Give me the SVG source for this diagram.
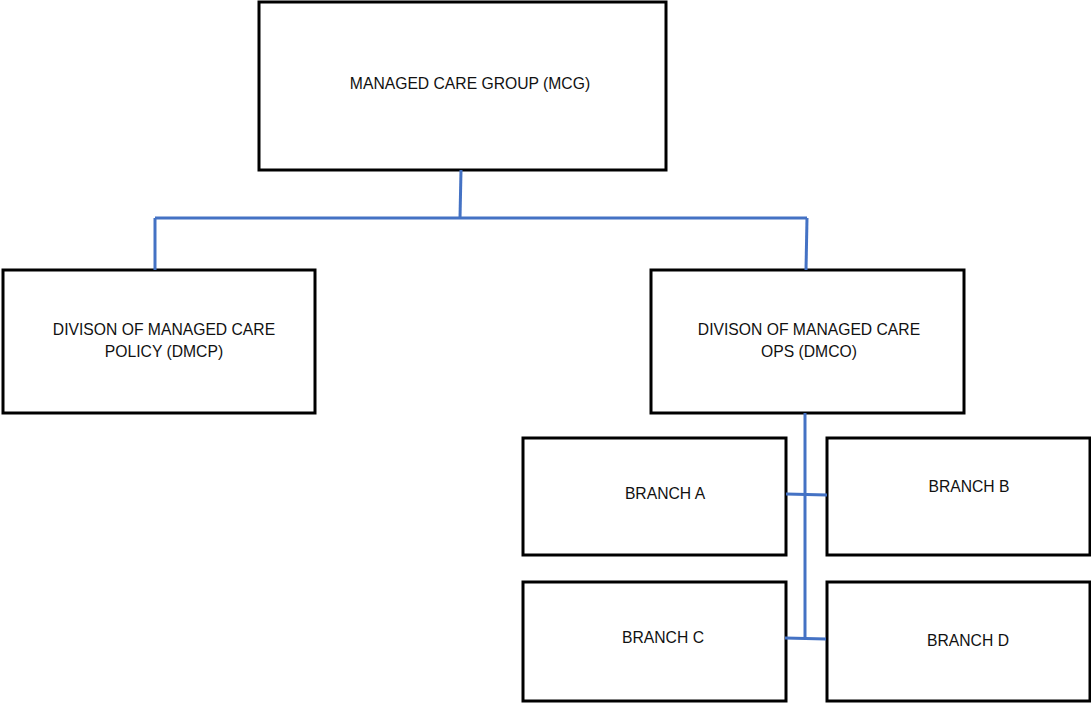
<svg xmlns="http://www.w3.org/2000/svg" width="1091" height="703" viewBox="0 0 1091 703">
<style>
.box{fill:#fff;stroke:#000;stroke-width:3}
.t{font-family:"Liberation Sans",Arial,sans-serif;font-size:15.7px;fill:#111;text-anchor:middle}
.c{stroke:#4472C4;stroke-width:3;fill:none}
</style>
<rect width="1091" height="703" fill="#fff"/>
<g id="mcg"><rect class="box" x="259" y="2" width="407" height="168"/><text class="t" x="470" y="89">MANAGED CARE GROUP (MCG)</text></g>
<g id="dmcp"><rect class="box" x="3" y="270" width="312" height="143"/><text class="t" x="164" y="335">DIVISON OF MANAGED CARE</text><text class="t" x="164" y="357">POLICY (DMCP)</text></g>
<g id="dmco"><rect class="box" x="651" y="270" width="313" height="143"/><text class="t" x="809" y="335">DIVISON OF MANAGED CARE</text><text class="t" x="809" y="357">OPS (DMCO)</text></g>
<g id="branchA"><rect class="box" x="523" y="438" width="263" height="117"/><text class="t" x="665" y="499">BRANCH A</text></g>
<g id="branchB"><rect class="box" x="827" y="438" width="263" height="117"/><text class="t" x="969" y="492">BRANCH B</text></g>
<g id="branchC"><rect class="box" x="523" y="582" width="263" height="119"/><text class="t" x="663" y="643">BRANCH C</text></g>
<g id="branchD"><rect class="box" x="827" y="582" width="263" height="119"/><text class="t" x="968" y="646">BRANCH D</text></g>
<g id="connectors">
<path class="c" d="M461 170 L460 218"/>
<path class="c" d="M155 218 L807 218"/>
<path class="c" d="M155 218 L155 270"/>
<path class="c" d="M807 218 L806 270"/>
<path class="c" d="M805 413 L805 638"/>
<path class="c" d="M786 494 L827 495"/>
<path class="c" d="M785 638 L826 639"/>
</g>
</svg>
